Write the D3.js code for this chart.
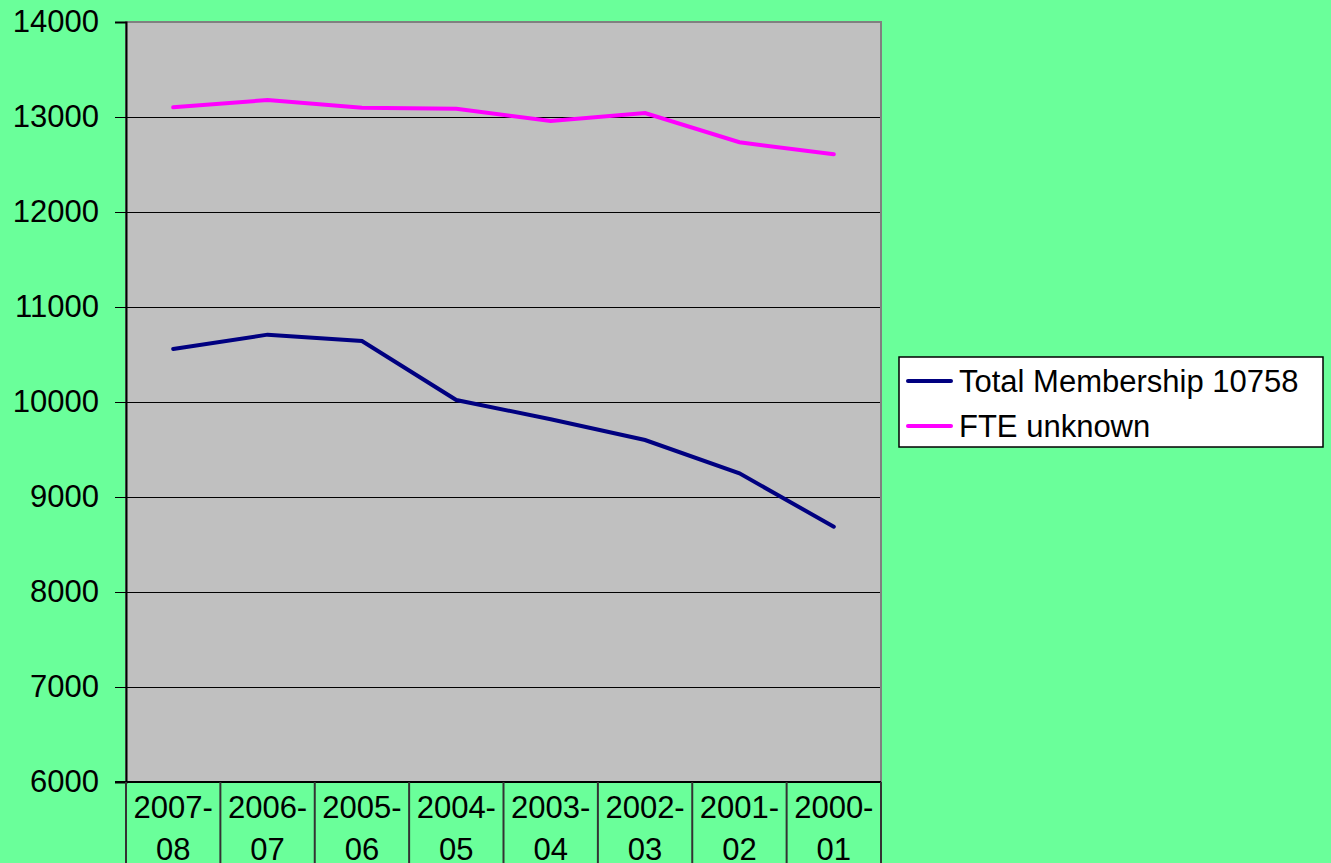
<!DOCTYPE html>
<html>
<head>
  <meta charset="utf-8">
  <script src="https://d3js.org/d3.v7.min.js"></script>
</head>
<style>
  html, body {
    margin: 0;
    padding: 0;
    background: #6aff9a;
  }

  svg {
    display: block;
    font-family: "Liberation Sans", Arial, sans-serif;
  }
</style>
<body>
  <svg id="chart" width="1331" height="863"></svg>
  <script>
    // data
    const seasons = ["2007-08", "2006-07", "2005-06", "2004-05", "2003-04", "2002-03", "2001-02", "2000-01"];
    const totalMembership = [10558, 10709, 10642, 10021, 9818, 9600, 9249, 8687];
    const fte = [13102, 13179, 13098, 13087, 12958, 13042, 12734, 12607];
    const yTicks = [6000, 7000, 8000, 9000, 10000, 11000, 12000, 13000, 14000];
    const seriesNames = ["Total Membership 10758", "FTE unknown"];
    const seriesColors = ["#000080", "#ff00ff"];

    const svg = d3.select("#chart");
    const plot = { left: 126, right: 881, top: 22, bottom: 782 };

    const x = d3.scaleBand()
      .domain(seasons)
      .range([plot.left, plot.right])
      .padding(0);

    const y = d3.scaleLinear()
      .domain([6000, 14000])
      .range([plot.bottom, plot.top]);

    // plot background
    svg.append("rect")
      .attr("x", plot.left)
      .attr("y", plot.top)
      .attr("width", plot.right - plot.left)
      .attr("height", plot.bottom - plot.top)
      .attr("fill", "#c0c0c0")
      .attr("stroke", "#808080")
      .attr("stroke-width", 2);

    // gridlines
    svg.append("g")
      .selectAll("line")
      .data(yTicks.slice(1, -1))
      .join("line")
      .attr("x1", plot.left)
      .attr("x2", plot.right - 1)
      .attr("y1", d => Math.round(y(d)) + 0.5)
      .attr("y2", d => Math.round(y(d)) + 0.5)
      .attr("stroke", "#000")
      .attr("stroke-width", 1);

    // y axis
    const yAxis = svg.append("g")
      .attr("transform", `translate(${plot.left},0)`)
      .call(d3.axisLeft(y).tickValues(yTicks).tickSize(11).tickPadding(16).tickFormat(d3.format("d")));
    yAxis.select(".domain").attr("stroke", "#000").attr("stroke-width", 2);
    yAxis.selectAll(".tick line").attr("stroke", "#000");
    yAxis.selectAll("text")
      .attr("font-size", 31)
      .attr("fill", "#000")
      .attr("font-family", "Liberation Sans, Arial, sans-serif");

    // x axis line and category separators
    svg.append("line")
      .attr("x1", plot.left - 11)
      .attr("x2", plot.right)
      .attr("y1", plot.bottom)
      .attr("y2", plot.bottom)
      .attr("stroke", "#000")
      .attr("stroke-width", 2);

    const edges = seasons.map(s => x(s)).concat([plot.right]);
    svg.append("g")
      .selectAll("line")
      .data(edges)
      .join("line")
      .attr("x1", d => d)
      .attr("x2", d => d)
      .attr("y1", plot.bottom)
      .attr("y2", 863)
      .attr("stroke", "#333")
      .attr("stroke-width", 2);

    const catLabels = svg.append("g")
      .selectAll("text")
      .data(seasons)
      .join("text")
      .attr("x", d => x(d) + x.bandwidth() / 2)
      .attr("text-anchor", "middle")
      .attr("font-size", 31)
      .attr("fill", "#000");
    catLabels.append("tspan")
      .attr("x", d => x(d) + x.bandwidth() / 2)
      .attr("y", 818)
      .text(d => d.split("-")[0] + "-");
    catLabels.append("tspan")
      .attr("x", d => x(d) + x.bandwidth() / 2)
      .attr("y", 860)
      .text(d => d.split("-")[1]);

    // lines
    const line = d3.line()
      .x((d, i) => x(seasons[i]) + x.bandwidth() / 2)
      .y(d => y(d));

    [totalMembership, fte].forEach(function (values, i) {
      svg.append("path")
        .attr("d", line(values))
        .attr("fill", "none")
        .attr("stroke", seriesColors[i])
        .attr("stroke-width", 4)
        .attr("stroke-linejoin", "miter")
        .attr("stroke-linecap", "round");
    });

    // legend
    const legend = svg.append("g").attr("transform", "translate(899,357)");
    legend.append("rect")
      .attr("width", 424)
      .attr("height", 90)
      .attr("fill", "#fff")
      .attr("stroke", "#000")
      .attr("stroke-width", 1.5);
    seriesNames.forEach(function (name, i) {
      const yy = 24 + i * 45;
      legend.append("line")
        .attr("x1", 9)
        .attr("x2", 52)
        .attr("y1", yy)
        .attr("y2", yy)
        .attr("stroke", seriesColors[i])
        .attr("stroke-width", 4)
        .attr("stroke-linecap", "round");
      legend.append("text")
        .attr("x", 60)
        .attr("y", yy + 11)
        .attr("font-size", 31)
        .attr("fill", "#000")
        .text(name);
    });
  </script>
</body>
</html>
